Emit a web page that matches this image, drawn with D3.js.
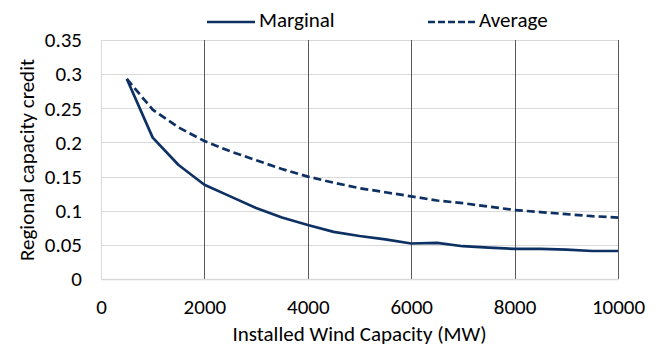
<!DOCTYPE html>
<html>
<head>
<meta charset="utf-8">
<script src="https://cdn.jsdelivr.net/npm/d3@7"></script>
<style>
html,body{margin:0;padding:0;background:#fff;}
text{font-family:Carlito, Calibri, Lato, "Open Sans", sans-serif;fill:#000;}
</style>
</head>
<body>
<svg id="chart" width="662" height="348"></svg>
<script>
const capacity = [500,1000,1500,2000,2500,3000,3500,4000,4500,5000,5500,6000,6500,7000,7500,8000,8500,9000,9500,10000];
const marginal = [0.293,0.207,0.167,0.138,0.121,0.104,0.090,0.079,0.069,0.063,0.058,0.052,0.053,0.048,0.046,0.044,0.044,0.043,0.041,0.041];
const average  = [0.293,0.248,0.222,0.202,0.187,0.174,0.161,0.150,0.141,0.133,0.127,0.121,0.115,0.111,0.106,0.101,0.098,0.095,0.092,0.090];
const xTicks = [0,2000,4000,6000,8000,10000];
const yTicks = [0,0.05,0.1,0.15,0.2,0.25,0.3,0.35];
const seriesNames = ["Marginal","Average"];

(function(){
const svg = d3.select("#chart");
const pL = 101, pR = 618, pT = 40, pB = 279;
const x = d3.scaleLinear().domain([0,10000]).range([pL,pR]);
const y = d3.scaleLinear().domain([0,0.35]).range([pB,pT]);
const color = "#0e3163";
const ff = "Carlito, Calibri, Lato, 'Open Sans', sans-serif";
const fs = 21;

svg.append("g").selectAll("line").data(yTicks.filter(d=>d>0)).join("line")
  .attr("x1",pL).attr("x2",pR)
  .attr("y1",d=>Math.round(y(d))+0.5).attr("y2",d=>Math.round(y(d))+0.5)
  .attr("stroke","#d9d9d9").attr("stroke-width",1);
svg.append("g").selectAll("line").data(xTicks.filter(d=>d>0)).join("line")
  .attr("x1",d=>Math.round(x(d))+0.5).attr("x2",d=>Math.round(x(d))+0.5)
  .attr("y1",pT).attr("y2",pB)
  .attr("stroke","#595959").attr("stroke-width",1);
svg.append("line").attr("x1",pL+0.5).attr("x2",pL+0.5).attr("y1",pT).attr("y2",pB)
  .attr("stroke","#d9d9d9");
svg.append("line").attr("x1",pL).attr("x2",pR+1).attr("y1",pB+0.5).attr("y2",pB+0.5)
  .attr("stroke","#d9d9d9").attr("stroke-width",1.5);

const xAxis = d3.axisBottom(x).tickValues(xTicks).tickSize(0).tickPadding(0).tickFormat(d3.format("d"));
const gx = svg.append("g").attr("transform",`translate(0,314)`).call(xAxis);
gx.select(".domain").remove();
gx.selectAll("text").attr("font-size",fs).attr("dy",0).attr("y",0).style("font-family",ff).attr("fill","#000");

const yAxis = d3.axisLeft(y).tickValues(yTicks).tickSize(0).tickPadding(0).tickFormat(d=>d===0?"0":String(+d.toFixed(2)));
const gy = svg.append("g").attr("transform",`translate(82,0)`).call(yAxis);
gy.select(".domain").remove();
gy.selectAll("text").attr("font-size",fs).style("font-family",ff).attr("fill","#000");

const line = d3.line().x((d,i)=>x(capacity[i])).y(d=>y(d));
svg.append("path").datum(marginal).attr("d",line).attr("fill","none")
  .attr("stroke",color).attr("stroke-width",2.7).attr("stroke-linejoin","round");
svg.append("path").datum(average).attr("d",line).attr("fill","none")
  .attr("stroke",color).attr("stroke-width",2.7).attr("stroke-dasharray","8,4");

svg.append("text").attr("x",(pL+pR)/2).attr("y",341).attr("text-anchor","middle")
  .attr("font-size",fs).text("Installed Wind Capacity (MW)");
svg.append("text").attr("transform","translate(34,160) rotate(-90)").attr("text-anchor","middle")
  .attr("font-size",fs).text("Regional capacity credit");

const legend = svg.append("g");
legend.append("line").attr("x1",207).attr("x2",255).attr("y1",22).attr("y2",22)
  .attr("stroke",color).attr("stroke-width",2.7);
legend.append("text").attr("x",259).attr("y",27).attr("font-size",fs).text(seriesNames[0]);
legend.append("line").attr("x1",428).attr("x2",475).attr("y1",22).attr("y2",22)
  .attr("stroke",color).attr("stroke-width",2.7).attr("stroke-dasharray","7,3");
legend.append("text").attr("x",479).attr("y",27).attr("font-size",fs).text(seriesNames[1]);
})();
</script>
</body>
</html>
